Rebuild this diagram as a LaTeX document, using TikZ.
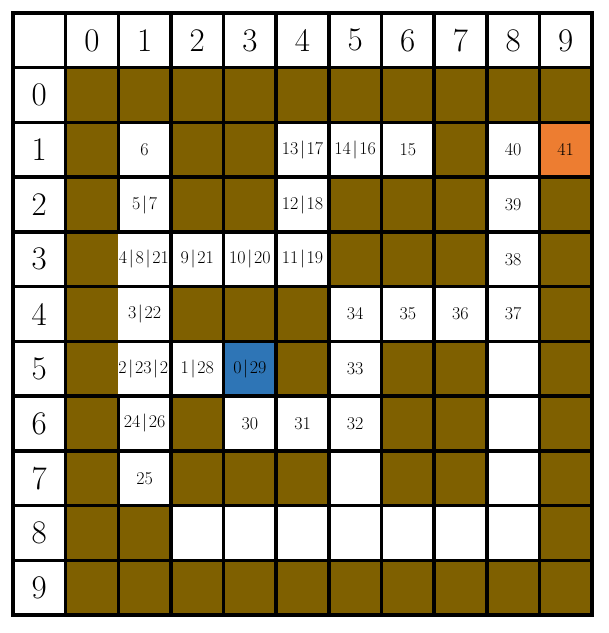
\documentclass[tikz,border=0pt]{standalone}
\usepackage{fontspec}
\definecolor{wallc}{HTML}{7F6000}
\definecolor{goalc}{HTML}{ED7D31}
\definecolor{startc}{HTML}{2E75B6}
\newcommand{\br}{\kern1.7pt|\kern1.7pt}
\begin{document}
\begin{tikzpicture}[x=1pt,y=1pt,
  gridline/.style={line width=3.5pt, line cap=rect},
  hdr/.style={font=\fontsize{33}{38}\selectfont, inner sep=0pt},
  lab/.style={font=\fontsize{18}{21}\selectfont, inner sep=0pt},
]
\useasboundingbox (0,0) rectangle (609,633);
\def\cw{52.64}\def\rh{54.73}\def\gx{13}\def\gy{620}
% walls: whole data region
\fill[wallc] (\gx+\cw,\gy-\rh) rectangle (\gx+11*\cw,\gy-11*\rh);
% free cells (col/row in maze coordinates)
\foreach \c/\r in {1/1,4/1,5/1,6/1,8/1, 1/2,4/2,8/2, 1/3,2/3,3/3,4/3,8/3,
  1/4,5/4,6/4,7/4,8/4, 1/5,2/5,5/5,8/5, 1/6,3/6,4/6,5/6,8/6, 1/7,5/7,8/7,
  2/8,3/8,4/8,5/8,6/8,7/8,8/8}
  \fill[white] (\gx+\c*\cw+\cw,\gy-\r*\rh-\rh) rectangle (\gx+\c*\cw+2*\cw,\gy-\r*\rh-2*\rh);
\fill[goalc] (\gx+10*\cw,\gy-2*\rh) rectangle (\gx+11*\cw,\gy-3*\rh);
\fill[startc] (\gx+4*\cw,\gy-6*\rh) rectangle (\gx+5*\cw,\gy-7*\rh);
% headers
\foreach \k in {0,...,9}{
  \node[hdr] (colh\k) at (\gx+\k*\cw+1.5*\cw,\gy-0.5*\rh) {\k};
  \node[hdr] (rowh\k) at (\gx+0.5*\cw,\gy-\k*\rh-1.5*\rh) {\k};
}
% labels
\foreach \c/\r/\t in {1/1/6,4/1/13\br17,5/1/14\br16,6/1/15,8/1/40,9/1/41,
  1/2/5\br7,4/2/12\br18,8/2/39,
  2/3/9\br21,3/3/10\br20,4/3/11\br19,8/3/38,
  1/4/3\br22,5/4/34,6/4/35,7/4/36,8/4/37,
  2/5/1\br28,3/5/0\br29,5/5/33,
  1/6/24\br26,3/6/30,4/6/31,5/6/32,
  1/7/25}
  \node[lab] (lab\c\r) at (\gx+\c*\cw+1.5*\cw,\gy-\r*\rh-1.5*\rh) {\t};
\begin{scope}
  \clip (\gx+2*\cw,\gy-4*\rh) rectangle (\gx+3*\cw,\gy-5*\rh);
  \node[lab,anchor=west] (lab13) at (\gx+2*\cw+0.5,\gy-4.5*\rh) {4\br8\br21};
\end{scope}
\node[lab,anchor=east] (lab15) at (\gx+3*\cw-2.5,\gy-6.5*\rh) {2\br23\br2};
% grid lines
\foreach \i in {0,...,11}
  \draw[gridline] (\gx,\gy-\i*\rh) -- (\gx+11*\cw,\gy-\i*\rh);
\foreach \j in {0,1,3,4,5,6,7,8,9,10,11}
  \draw[gridline] (\gx+\j*\cw,\gy) -- (\gx+\j*\cw,\gy-11*\rh);
\draw[gridline] (\gx+2*\cw,\gy) -- (\gx+2*\cw,\gy-4*\rh);
\draw[gridline] (\gx+2*\cw,\gy-7*\rh) -- (\gx+2*\cw,\gy-11*\rh);
\end{tikzpicture}
\end{document}
